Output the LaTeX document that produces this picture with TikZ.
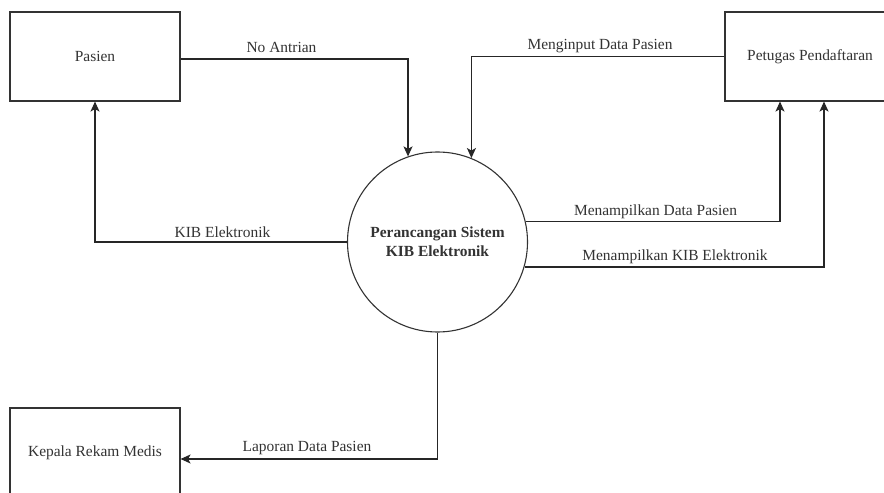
\documentclass[tikz,border=0pt]{standalone}
\usepackage{fontspec}
\setmainfont{Liberation Serif}
\usetikzlibrary{arrows.meta}
\begin{document}
\begin{tikzpicture}[x=1bp,y=-1bp,
  every node/.style={font=\fontsize{15.5}{19}\selectfont, text=black!80},
  entity/.style={draw=black!80, line width=1.1bp, rectangle, minimum width=170bp, minimum height=89bp, inner sep=0pt},
  proc/.style={draw=black!80, line width=1.1bp, circle, minimum size=180bp, inner sep=0pt, align=center, font=\fontsize{15.5}{19}\selectfont\bfseries},
  flow/.style={draw=black!85, line width=1.1bp, -{Stealth[length=10bp,width=9bp,inset=2.5bp]}},
  lbl/.style={inner sep=0pt, anchor=center}]
\useasboundingbox (0,0) rectangle (884,493);
\clip (0,0) rectangle (884,493);
\fill[white] (0,0) rectangle (884,493);
\node[entity] (pasien) at (95,56.5) {Pasien};
\node[entity] (petugas) at (810,56.5) {Petugas Pendaftaran};
\node[entity] (kepala) at (95,452.5) {Kepala Rekam Medis};
\node[proc] (sys) at (437.5,242) {Perancangan Sistem\\KIB Elektronik};

\draw[flow] ([yshift=-2.5bp]pasien.east) -| (sys.109);
\draw[flow] (petugas.west) -| (sys.68);
\draw[flow] (sys.west) -| (pasien.south);
\draw[flow] (sys.13) -| ([xshift=-30bp]petugas.south);
\draw[flow] (sys.-16) -| ([xshift=14bp]petugas.south);
\draw[flow] (sys.south) |- ([yshift=-6.5bp]kepala.east);

\node[lbl] (l1) at (281.5,47) {No Antrian};
\node[lbl] (l2) at (600,46) {Menginput Data Pasien};
\node[lbl] (l3) at (222.5,232) {KIB Elektronik};
\node[lbl] (l4) at (655.5,212) {Menampilkan Data Pasien};
\node[lbl] (l5) at (675,257) {Menampilkan KIB Elektronik};
\node[lbl] (l6) at (307,448) {Laporan Data Pasien};
\end{tikzpicture}
\end{document}
